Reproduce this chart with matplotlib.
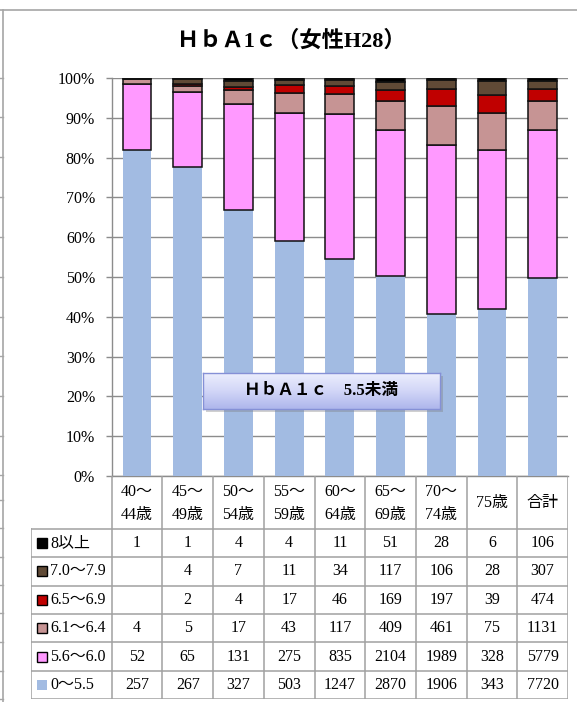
import numpy as np
import matplotlib
matplotlib.use("Agg")
import matplotlib.pyplot as plt
from matplotlib.lines import Line2D
from matplotlib.patches import Rectangle
from matplotlib.colors import LinearSegmentedColormap

plt.rcParams['font.family'] = ['Liberation Serif', 'Noto Sans CJK JP', 'DejaVu Sans']

# ---- data -------------------------------------------------------------
categories = ["40～\n44歳", "45～\n49歳", "50～\n54歳", "55～\n59歳", "60～\n64歳",
              "65～\n69歳", "70～\n74歳", "75歳", "合計"]
# stacking order: bottom to top
series_names = ["0～5.5", "5.6～6.0", "6.1～6.4", "6.5～6.9", "7.0～7.9", "8以上"]
v_0_55 = [257, 267, 327, 503, 1247, 2870, 1906, 343, 7720]
v_56_60 = [52, 65, 131, 275, 835, 2104, 1989, 328, 5779]
v_61_64 = [4, 5, 17, 43, 117, 409, 461, 75, 1131]
v_65_69 = [None, 2, 4, 17, 46, 169, 197, 39, 474]
v_70_79 = [None, 4, 7, 11, 34, 117, 106, 28, 307]
v_8up = [1, 1, 4, 4, 11, 51, 28, 6, 106]
series_values = [v_0_55, v_56_60, v_61_64, v_65_69, v_70_79, v_8up]
series_colors = ["#a2bbe2", "#ff99ff", "#c69494", "#c00000", "#604a36", "#000000"]
ytick_values = list(range(0, 101, 10))

title = "ＨｂＡ1ｃ（女性H28）"
callout = "ＨｂＡ１ｃ　5.5未満"

# ---- layout helpers (pixel -> figure fraction) -------------------------
W, H = 577, 702
def fx(px):
    return px / W
def fy(py):
    return 1 - py / H

fig = plt.figure(figsize=(W / 100, H / 100), dpi=100)
GRAY = "#9a9a9a"

# outer frame and sheet cell borders at the left edge
fig.add_artist(Line2D([0, 1], [fy(10), fy(10)], color="#a6a6a6", lw=1.2))
fig.add_artist(Line2D([fx(3), fx(3)], [0, fy(10)], color="#a6a6a6", lw=1.2))
for yy in [78, 117, 157, 197, 237, 277, 317, 356, 396, 436, 475, 500, 528, 557,
           585, 613, 642, 671, 699]:
    fig.add_artist(Line2D([0, fx(3)], [fy(yy), fy(yy)], color="#a6a6a6", lw=1))

# ---- stacked 100% bars -------------------------------------------------
ax_left, ax_right, ax_top, ax_bottom = 111.7, 568, 78, 476
ax = fig.add_axes([fx(ax_left), fy(ax_bottom), fx(ax_right) - fx(ax_left),
                   fy(ax_top) - fy(ax_bottom)])
counts = np.array([[np.nan if v is None else v for v in s] for s in series_values], float)
totals = np.nansum(counts, axis=0)
pct = np.nan_to_num(counts) / totals * 100

x = np.arange(len(categories))
bottom = np.zeros(len(categories))
for i, (name, col) in enumerate(zip(series_names, series_colors)):
    if i == 0:
        ax.bar(x, pct[i], 0.57, bottom=bottom, color=col, linewidth=0, zorder=3)
    else:
        ax.bar(x, pct[i], 0.57, bottom=bottom, color=col, edgecolor="#111111",
               linewidth=1.1, zorder=3)
    bottom += pct[i]

ax.set_xlim(-0.5, len(categories) - 0.5)
ax.set_ylim(0, 100)
ax.set_yticks(ytick_values)
ax.set_yticklabels([f"{v}%" for v in ytick_values], fontsize=11.5)
ax.set_xticks([])
ax.grid(axis="y", color="#8c8c8c", lw=1.0, zorder=0)
ax.set_axisbelow(True)
for s in ["top", "right"]:
    ax.spines[s].set_visible(False)
for s in ["left", "bottom"]:
    ax.spines[s].set_color("#8c8c8c")
    ax.spines[s].set_linewidth(1.0)
ax.tick_params(axis="y", length=4, width=1, color="#8c8c8c", pad=8)

# ---- data table --------------------------------------------------------
tab_left, tab_bottom = 31, 699.3
col_px = (ax_right - ax_left) / len(categories)
row_px = 28.4
header_px = 52.7
label_w = (ax_left - tab_left) / col_px
hh = header_px / row_px
nrows = len(series_names)

tax = fig.add_axes([fx(tab_left), fy(tab_bottom), fx(ax_right) - fx(tab_left),
                    fy(ax_bottom) - fy(tab_bottom)])
x0 = -0.5 - label_w
tax.set_xlim(x0, len(categories) - 0.5)
tax.set_ylim(hh + nrows, 0)
tax.axis("off")

lc = "#a0a0a0"
for k in range(len(categories) + 1):
    tax.plot([k - 0.5, k - 0.5], [0, hh + nrows], color=lc, lw=1.1)
tax.plot([x0, x0], [hh, hh + nrows], color=lc, lw=1.1)
for r in range(nrows + 1):
    tax.plot([x0, len(categories) - 0.5], [hh + r, hh + r], color=lc, lw=1.1)

for k, c in enumerate(categories):
    tax.text(k, hh / 2 + 0.03, c, ha="center", va="center", fontsize=11.5,
             linespacing=1.55)

table_rows = list(reversed(range(nrows)))  # top row is the highest band
sq_w = 10 / col_px
sq_h = 10 / row_px
for r, si in enumerate(table_rows):
    yc = hh + r + 0.5
    col = series_colors[si]
    tax.add_patch(Rectangle((x0 + 5.7 / col_px, yc - sq_h / 2), sq_w, sq_h,
                            facecolor=col,
                            edgecolor=("none" if si == 0 else "#000000"),
                            lw=1.0))
    tax.text(x0 + 19 / col_px, yc, series_names[si], ha="left", va="center",
             fontsize=11.5)
    for k in range(len(categories)):
        v = series_values[si][k]
        if v is not None:
            tax.text(k, yc, str(v), ha="center", va="center", fontsize=11.5)

# ---- title -------------------------------------------------------------
fig.text(fx(291), fy(41), title, ha="center", va="center", fontsize=16,
         fontweight="bold")

# ---- callout box with gradient ----------------------------------------
bx0, bx1, by0, by1 = 203, 440, 373, 409
fig.add_artist(Rectangle((fx(bx0 + 3), fy(by1 + 3)), fx(bx1) - fx(bx0),
                         fy(by0) - fy(by1), transform=fig.transFigure,
                         facecolor="#7a7a7a", alpha=0.35, lw=0, zorder=5))
bax = fig.add_axes([fx(bx0), fy(by1), fx(bx1) - fx(bx0), fy(by0) - fy(by1)],
                   zorder=6)
grad = np.linspace(0, 1, 64).reshape(-1, 1)
cmap = LinearSegmentedColormap.from_list("lav", ["#eceefd", "#d2d6f7", "#aeb6ec"])
bax.imshow(grad, aspect="auto", cmap=cmap, extent=[0, 1, 0, 1], origin="upper")
bax.set_xticks([])
bax.set_yticks([])
for s in bax.spines.values():
    s.set_color("#8590d6")
    s.set_linewidth(1.0)
bax.text(0.5, 0.5, callout, ha="center", va="center", fontsize=12,
         fontweight="bold", transform=bax.transAxes)

fig.savefig("out.png", dpi=100)
